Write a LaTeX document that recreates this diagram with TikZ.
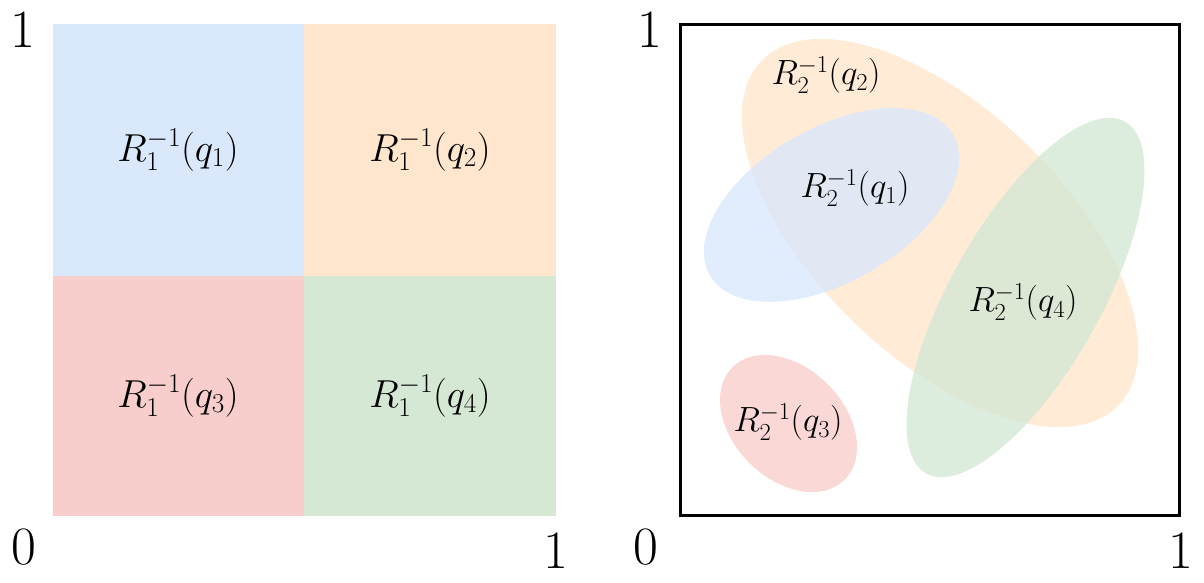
\RequirePackage{fix-cm}
\documentclass[tikz,border=0pt]{standalone}
\definecolor{cblue}{HTML}{DAE8FC}
\definecolor{corange}{HTML}{FFE6CC}
\definecolor{cred}{HTML}{F8CECC}
\definecolor{cgreen}{HTML}{D5E8D4}
\tikzset{
  lbl/.style={inner sep=0pt, font=\fontsize{39}{46}\selectfont},
  lblr/.style={inner sep=0pt, font=\fontsize{35}{42}\selectfont},
  axis/.style={inner sep=0pt, font=\fontsize{54}{60}\selectfont},
  blob/.style={fill opacity=0.8},
}
\begin{document}
\begin{tikzpicture}[x=1pt,y=1pt]
\useasboundingbox (0,0) rectangle (1204,582);
% left panel
\fill[cblue]   (53,306) rectangle (304,558);
\fill[corange] (304,306) rectangle (556,558);
\fill[cred]    (53,66) rectangle (304,306);
\fill[cgreen]  (304,66) rectangle (556,306);
\node[lbl] (l1) at (178,432) {$R_1^{-1}(q_1)$};
\node[lbl] (l2) at (430,432) {$R_1^{-1}(q_2)$};
\node[lbl] (l3) at (178,186) {$R_1^{-1}(q_3)$};
\node[lbl] (l4) at (430,186) {$R_1^{-1}(q_4)$};
\node[axis] (a1) at (23,552) {1};
\node[axis] (a0) at (23.5,35) {0};
\node[axis] (ax) at (556,31) {1};
% right panel
\fill[blob,corange,rotate around={-44:(940,349)}] (940,349) ellipse [x radius=248pt, y radius=124pt];
\fill[blob,cblue,rotate around={30:(831.5,377)}] (831.5,377) ellipse [x radius=140.5pt, y radius=77pt];
\fill[blob,cgreen,rotate around={60.5:(1025.5,284.5)}] (1025.5,284.5) ellipse [x radius=202pt, y radius=75pt];
\fill[blob,cred,rotate around={-45:(788.5,158.5)}] (788.5,158.5) ellipse [x radius=79.4pt, y radius=55.5pt];
\draw[line width=3pt] (680,67) rectangle (1179,557);
\node[lblr] (r2) at (826,507) {$R_2^{-1}(q_2)$};
\node[lblr] (r1) at (855,394) {$R_2^{-1}(q_1)$};
\node[lblr] (r4) at (1023,280) {$R_2^{-1}(q_4)$};
\node[lblr] (r3) at (788,160) {$R_2^{-1}(q_3)$};
\node[axis] (b1) at (650,552) {1};
\node[axis] (b0) at (646,35) {0};
\node[axis] (bx) at (1181,31) {1};
\end{tikzpicture}
\end{document}
